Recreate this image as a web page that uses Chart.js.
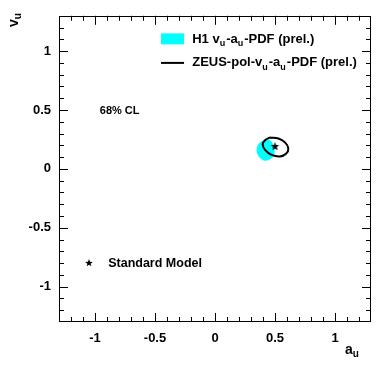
<!DOCTYPE html>
<html>
<head>
<meta charset="utf-8">
<script src="https://cdn.jsdelivr.net/npm/chart.js@4/dist/chart.umd.min.js"></script>
<style>
  body { margin: 0; background: #fff; }
  canvas { display: block; }
</style>
</head>
<body>
<canvas id="chart" width="381" height="373"></canvas>
<script>
// axis range and labelled ticks
const AXIS_MIN = -1.3;
const AXIS_MAX = 1.3;
const MAJOR_TICKS = [-1, -0.5, 0, 0.5, 1];

// H1 vu-au-PDF (prel.) 68% CL contour
const h1A = [0.431, 0.472, 0.494, 0.492, 0.458, 0.408, 0.361, 0.347, 0.369, 0.431];
const h1V = [0.258, 0.231, 0.175, 0.119, 0.083, 0.072, 0.111, 0.167, 0.217, 0.258];

// ZEUS-pol-vu-au-PDF (prel.) 68% CL contour
const zeusA = [0.458, 0.528, 0.583, 0.611, 0.592, 0.542, 0.472, 0.417, 0.397, 0.417, 0.458];
const zeusV = [0.267, 0.258, 0.225, 0.175, 0.128, 0.106, 0.119, 0.161, 0.211, 0.244, 0.267];

// Standard Model point
const smA = [0.5];
const smV = [0.19];

const toPoints = (xs, ys) => xs.map((x, i) => ({ x: x, y: ys[i] }));

function starPath(ctx, x, y, r) {
    ctx.beginPath();
    for (let i = 0; i < 10; i++) {
        const rad = i % 2 === 0 ? r : r * 0.42;
        const ang = -Math.PI / 2 + i * Math.PI / 5;
        const px = x + rad * Math.cos(ang);
        const py = y + rad * Math.sin(ang);
        if (i === 0) ctx.moveTo(px, py); else ctx.lineTo(px, py);
    }
    ctx.closePath();
    ctx.fill();
}

function makeStar(r) {
    const c = document.createElement('canvas');
    c.width = c.height = Math.ceil(r * 2 + 2);
    const g = c.getContext('2d');
    g.fillStyle = '#000';
    starPath(g, c.width / 2, c.height / 2, r);
    return c;
}

const FONT = '"Liberation Sans", Arial, Helvetica, sans-serif';

// text with subscripts: parts = [[text, isSub], ...]
function richText(ctx, x, y, parts, size) {
    ctx.textBaseline = 'middle';
    ctx.textAlign = 'left';
    parts.forEach(p => {
        const s = p[1] ? Math.round(size * 0.68) : size;
        ctx.font = 'bold ' + s + 'px ' + FONT;
        ctx.fillText(p[0], x, y + (p[1] ? size * 0.32 : 0));
        x += ctx.measureText(p[0]).width + (p[1] ? 1 : 0);
    });
}

const framePlugin = {
    id: 'frame',
    afterDraw(chart) {
        const ctx = chart.ctx;
        const a = chart.chartArea;
        const xs = chart.scales.x;
        const ys = chart.scales.y;
        ctx.save();
        ctx.strokeStyle = '#000';
        ctx.lineWidth = 1;
        ctx.strokeRect(Math.round(a.left) + 0.5, Math.round(a.top) + 0.5,
            Math.round(a.right - a.left) - 1, Math.round(a.bottom - a.top) - 1);

        // ticks inside the frame on all four sides, major every 0.5, minor every 0.1
        ctx.beginPath();
        for (let i = -12; i <= 12; i++) {
            const v = i / 10;
            const len = (i % 5 === 0) ? 9 : 5;
            const px = Math.round(xs.getPixelForValue(v)) + 0.5;
            const py = Math.round(ys.getPixelForValue(v)) + 0.5;
            ctx.moveTo(px, a.bottom); ctx.lineTo(px, a.bottom - len);
            ctx.moveTo(px, a.top); ctx.lineTo(px, a.top + len);
            ctx.moveTo(a.left, py); ctx.lineTo(a.left + len, py);
            ctx.moveTo(a.right, py); ctx.lineTo(a.right - len, py);
        }
        ctx.stroke();

        ctx.fillStyle = '#000';
        // axis titles
        richText(ctx, a.right - 26, 350, [['a', false], ['u', true]], 14);
        ctx.save();
        ctx.translate(14, 27);
        ctx.rotate(-Math.PI / 2);
        richText(ctx, 0, 0, [['v', false], ['u', true]], 14);
        ctx.restore();

        // legend
        const lx = xs.getPixelForValue(-0.45);
        const lx2 = xs.getPixelForValue(-0.258);
        const tx = xs.getPixelForValue(-0.19);
        const y1 = ys.getPixelForValue(1.10);
        const y2 = ys.getPixelForValue(0.90);
        ctx.fillStyle = '#00ffff';
        ctx.fillRect(lx, y1 - 6, lx2 - lx, 11);
        ctx.fillStyle = '#000';
        ctx.lineWidth = 2;
        ctx.beginPath();
        ctx.moveTo(lx, y2); ctx.lineTo(lx2, y2);
        ctx.stroke();
        richText(ctx, tx, y1, [['H1 v', false], ['u', true], ['-a', false], ['u', true], ['-PDF (prel.)', false]], 13);
        richText(ctx, tx, y2, [['ZEUS-pol-v', false], ['u', true], ['-a', false], ['u', true], ['-PDF (prel.)', false]], 13);

        // 68% CL note
        richText(ctx, xs.getPixelForValue(-0.96), ys.getPixelForValue(0.496), [['68% CL', false]], 11);

        // Standard Model legend entry
        starPath(ctx, xs.getPixelForValue(-1.05), ys.getPixelForValue(-0.80), 4);
        richText(ctx, xs.getPixelForValue(-0.89), ys.getPixelForValue(-0.80), [['Standard Model', false]], 12.5);
        ctx.restore();
    }
};

const tickFont = { family: FONT, size: 13, weight: 'bold' };

new Chart(document.getElementById('chart').getContext('2d'), {
    type: 'scatter',
    data: {
        datasets: [{
            label: 'H1 vu-au-PDF (prel.)',
            data: toPoints(h1A, h1V),
            showLine: true,
            tension: 0.4,
            borderWidth: 0,
            borderColor: '#00ffff',
            backgroundColor: '#00ffff',
            fill: 'shape',
            pointRadius: 0,
            order: 3
        }, {
            label: 'ZEUS-pol-vu-au-PDF (prel.)',
            data: toPoints(zeusA, zeusV),
            showLine: true,
            tension: 0.4,
            borderWidth: 2,
            borderColor: '#000',
            fill: false,
            pointRadius: 0,
            order: 2
        }, {
            label: 'Standard Model',
            data: toPoints(smA, smV),
            pointStyle: makeStar(4.5),
            pointRadius: 5,
            order: 1
        }]
    },
    options: {
        responsive: false,
        animation: false,
        layout: { padding: { left: 0, top: 10, right: 10, bottom: 0 } },
        plugins: {
            legend: { display: false },
            tooltip: { enabled: false }
        },
        scales: {
            x: {
                type: 'linear',
                min: AXIS_MIN,
                max: AXIS_MAX,
                afterBuildTicks: s => { s.ticks = MAJOR_TICKS.map(v => ({ value: v })); },
                afterFit: s => { s.height = 51; },
                grid: { display: false, drawTicks: false },
                border: { display: false },
                ticks: { color: '#000', font: tickFont, padding: 9, maxRotation: 0, callback: v => String(v) }
            },
            y: {
                type: 'linear',
                min: AXIS_MIN,
                max: AXIS_MAX,
                afterBuildTicks: s => { s.ticks = MAJOR_TICKS.map(v => ({ value: v })); },
                afterFit: s => { s.width = 59; },
                grid: { display: false, drawTicks: false },
                border: { display: false },
                ticks: { color: '#000', font: tickFont, padding: 8, callback: v => String(v) }
            }
        }
    },
    plugins: [framePlugin]
});
</script>
</body>
</html>
